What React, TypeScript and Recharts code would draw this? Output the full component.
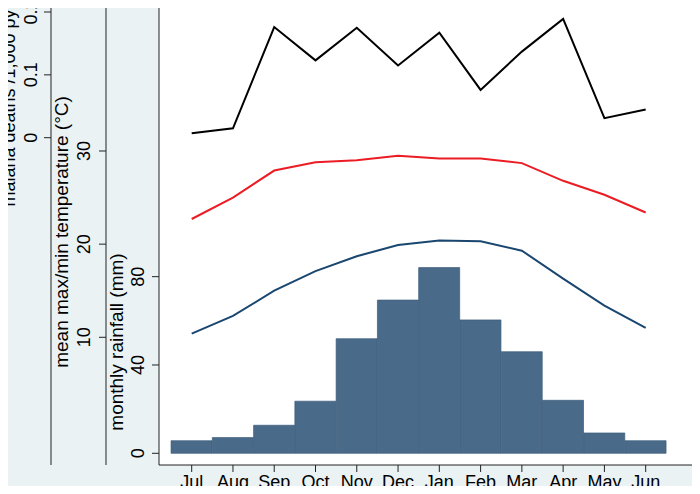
import React from "react";
import { Bar, CartesianGrid, ComposedChart, Line, XAxis, YAxis } from "recharts";

const months = ["Jul", "Aug", "Sep", "Oct", "Nov", "Dec", "Jan", "Feb", "Mar", "Apr", "May", "Jun"];
const monthIndex = [1, 2, 3, 4, 5, 6, 7, 8, 9, 10, 11, 12];
const rainfall = [5.7, 7.1, 12.7, 23.6, 51.9, 69.4, 84.1, 60.4, 46.0, 24.0, 9.2, 5.7];
const tempMax = [22.7, 25.0, 27.9, 28.8, 29.0, 29.5, 29.2, 29.2, 28.7, 26.8, 25.3, 23.4];
const tempMin = [10.4, 12.3, 15.0, 17.1, 18.7, 19.9, 20.4, 20.3, 19.3, 16.3, 13.4, 11.0];
const malariaDeaths = [0.007, 0.015, 0.176, 0.123, 0.175, 0.115, 0.167, 0.076, 0.137, 0.189, 0.031, 0.045];

const rainTicks = [0, 40, 80];
const tempTicks = [10, 20, 30];
const malariaTicks = [0, 0.1, 0.2];

const data = monthIndex.map((m, i) => ({
  m,
  rain: rainfall[i],
  tmax: tempMax[i],
  tmin: tempMin[i],
  deaths: malariaDeaths[i],
}));

const FONT = "'Liberation Sans', Arial, sans-serif";
const AXIS = "#222";

// rotated tick label, baseline sits at x
const RotTick = (props: any) => {
  const { x, y, payload } = props;
  return (
    <text x={x} y={y} transform={`rotate(-90 ${x} ${y})`} textAnchor="middle" fontSize={18} fill="#000" fontFamily={FONT}>
      {String(payload.value)}
    </text>
  );
};

const AxisTitle = (props: any) => {
  const { text, bx, cy, size = 19 } = props;
  return (
    <text x={bx} y={cy} transform={`rotate(-90 ${bx} ${cy})`} textAnchor="middle" fontSize={size} fill="#000" fontFamily={FONT}>
      {text}
    </text>
  );
};

// y axis ids sort alphabetically: first one sits next to the plot
export default function App() {
  return (
    <div style={{ margin: -8, width: 700, height: 494, background: "#eaf2f3", fontFamily: FONT }}>
      <ComposedChart
        width={700}
        height={494}
        data={data}
        barCategoryGap={0}
        barGap={0}
        margin={{ top: 0, right: 0, bottom: 0, left: 0 }}
      >
        <CartesianGrid yAxisId="a_rain" fill="#ffffff" horizontal={false} vertical={false} />
        <XAxis
          dataKey="m"
          type="number"
          domain={[0.208, 13.316]}
          ticks={monthIndex}
          interval={0}
          height={29}
          tickFormatter={(v) => months[v - 1]}
          tickSize={7}
          tickMargin={3}
          stroke={AXIS}
          tick={{ fill: "#000", fontSize: 18, fontFamily: FONT }}
        />
        <YAxis
          yAxisId="a_rain"
          type="number"
          domain={[-5.3, 205.3]}
          ticks={rainTicks}
          interval={0}
          width={53}
          tickSize={7}
          tickMargin={8}
          stroke={AXIS}
          tick={<RotTick />}
          label={<AxisTitle text="monthly rainfall (mm)" bx={123} cy={342} />}
        />
        <YAxis
          yAxisId="b_temp"
          type="number"
          domain={[-3.71, 46.21]}
          ticks={tempTicks}
          interval={0}
          width={55}
          tickSize={7}
          tickMargin={9}
          stroke={AXIS}
          tick={<RotTick />}
          label={<AxisTitle text="mean max/min temperature (°C)" bx={68} cy={232} />}
        />
        <YAxis
          yAxisId="c_malaria"
          type="number"
          domain={[-0.5208, 0.2191]}
          ticks={malariaTicks}
          interval={0}
          width={51}
          tickSize={7}
          tickMargin={7}
          stroke={AXIS}
          tick={<RotTick />}
          label={<AxisTitle text="malaria deaths /1,000 py" bx={15} cy={108} size={18} />}
        />
        <Bar
          yAxisId="a_rain"
          dataKey="rain"
          fill="#4a6a8a"
          stroke="#3c5b7a"
          strokeWidth={0.7}
          isAnimationActive={false}
        />
        <Line yAxisId="b_temp" type="linear" dataKey="tmin" stroke="#1a476f" strokeWidth={2} dot={false} isAnimationActive={false} />
        <Line yAxisId="b_temp" type="linear" dataKey="tmax" stroke="#ec1c24" strokeWidth={2} dot={false} isAnimationActive={false} />
        <Line yAxisId="c_malaria" type="linear" dataKey="deaths" stroke="#000" strokeWidth={2} dot={false} isAnimationActive={false} />
      </ComposedChart>
    </div>
  );
}
